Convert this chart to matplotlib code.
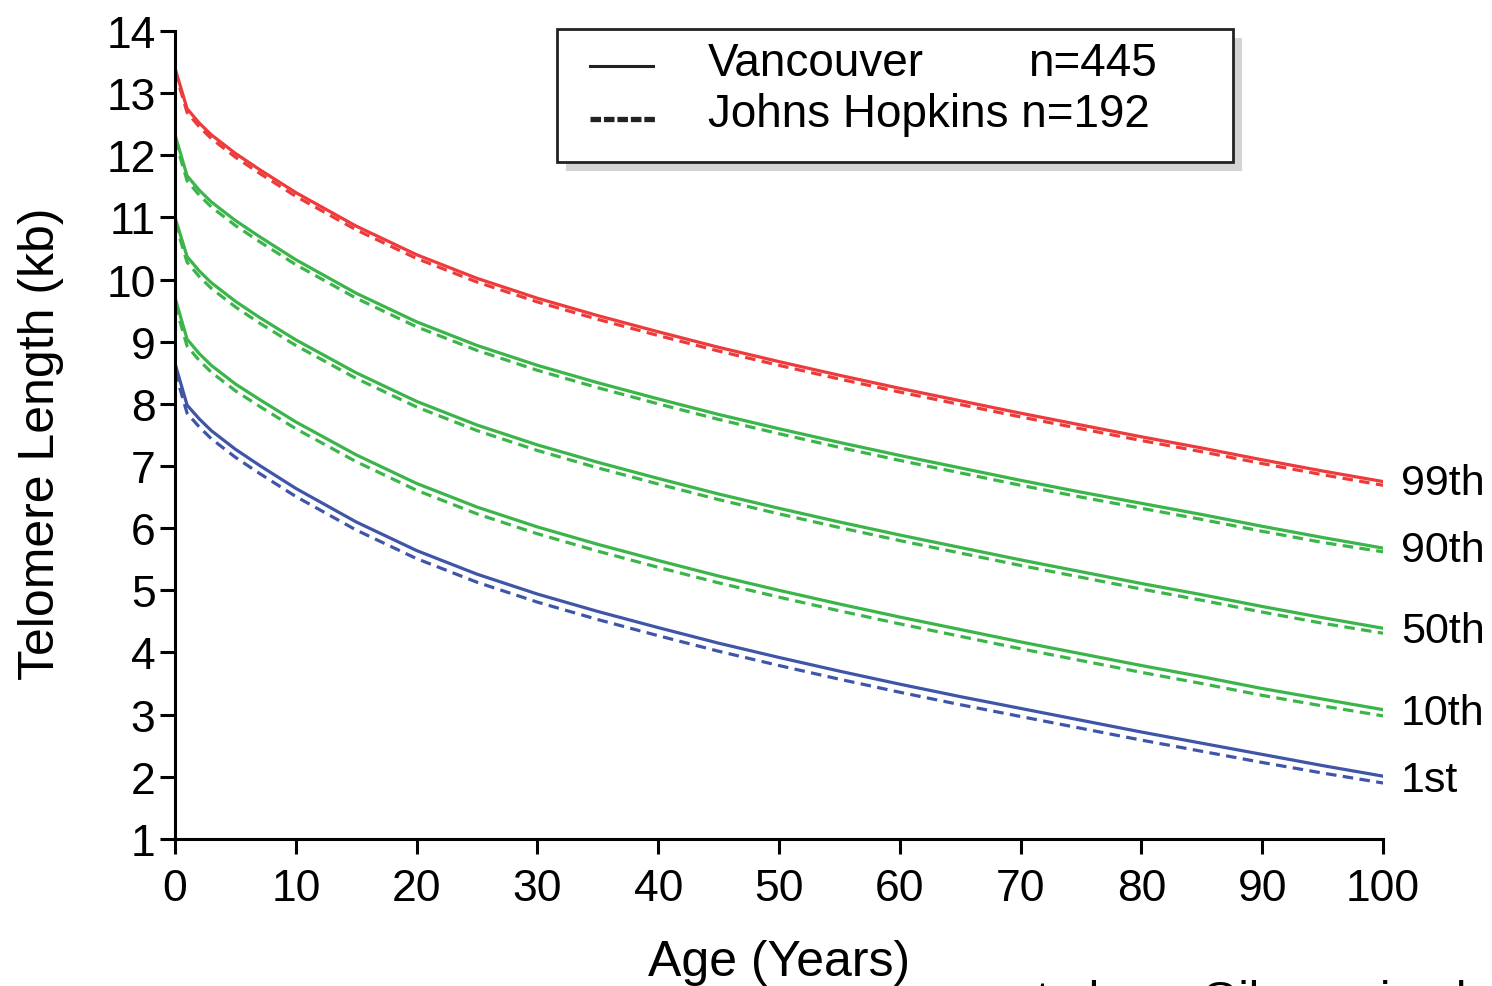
import matplotlib
matplotlib.use("Agg")
import matplotlib.pyplot as plt
from matplotlib.lines import Line2D
from matplotlib.patches import Rectangle

plt.rcParams['font.family'] = ['Liberation Sans', 'DejaVu Sans']

# ages (years)
age = [0, 1, 2, 3, 5, 7, 10, 15, 20, 25, 30, 35, 40, 45, 50, 55, 60, 65, 70, 75, 80, 85, 90, 95, 100]

# Vancouver (solid)
van_99 = [13.40, 12.75, 12.52, 12.33, 12.03, 11.77, 11.40, 10.86, 10.40, 10.02, 9.70, 9.42, 9.16,
          8.91, 8.68, 8.46, 8.25, 8.05, 7.85, 7.66, 7.47, 7.29, 7.10, 6.92, 6.75]
van_90 = [12.33, 11.67, 11.44, 11.25, 10.95, 10.69, 10.32, 9.78, 9.32, 8.94, 8.62, 8.34, 8.08,
          7.83, 7.60, 7.38, 7.17, 6.97, 6.77, 6.58, 6.40, 6.22, 6.03, 5.85, 5.68]
van_50 = [11.00, 10.37, 10.14, 9.95, 9.65, 9.39, 9.03, 8.50, 8.04, 7.66, 7.34, 7.06, 6.80,
          6.55, 6.32, 6.10, 5.89, 5.69, 5.49, 5.30, 5.11, 4.93, 4.74, 4.56, 4.39]
van_10 = [9.71, 9.04, 8.81, 8.62, 8.32, 8.07, 7.71, 7.18, 6.72, 6.34, 6.02, 5.74, 5.48,
          5.23, 5.00, 4.78, 4.57, 4.37, 4.17, 3.98, 3.79, 3.61, 3.42, 3.25, 3.08]
van_01 = [8.65, 7.98, 7.76, 7.57, 7.27, 7.01, 6.64, 6.10, 5.64, 5.26, 4.94, 4.66, 4.40,
          4.15, 3.92, 3.70, 3.49, 3.29, 3.10, 2.91, 2.72, 2.54, 2.36, 2.18, 2.01]

# Johns Hopkins (dashed)
jh_99 = [13.35, 12.69, 12.46, 12.27, 11.97, 11.71, 11.34, 10.80, 10.34, 9.96, 9.64, 9.36, 9.10,
         8.85, 8.62, 8.40, 8.19, 7.99, 7.79, 7.60, 7.41, 7.23, 7.04, 6.86, 6.69]
jh_90 = [12.25, 11.59, 11.36, 11.17, 10.87, 10.61, 10.24, 9.70, 9.24, 8.86, 8.54, 8.26, 8.00,
         7.75, 7.52, 7.30, 7.09, 6.89, 6.69, 6.50, 6.32, 6.14, 5.95, 5.77, 5.62]
jh_50 = [10.92, 10.28, 10.05, 9.86, 9.56, 9.30, 8.94, 8.41, 7.95, 7.57, 7.25, 6.97, 6.71,
         6.46, 6.23, 6.01, 5.80, 5.60, 5.40, 5.21, 5.02, 4.84, 4.65, 4.47, 4.31]
jh_10 = [9.60, 8.93, 8.70, 8.51, 8.21, 7.96, 7.60, 7.07, 6.61, 6.23, 5.91, 5.63, 5.37,
         5.12, 4.89, 4.67, 4.46, 4.26, 4.06, 3.87, 3.68, 3.50, 3.31, 3.14, 2.98]
jh_01 = [8.52, 7.85, 7.63, 7.44, 7.14, 6.88, 6.51, 5.97, 5.51, 5.13, 4.81, 4.53, 4.27,
         4.02, 3.79, 3.57, 3.36, 3.16, 2.97, 2.78, 2.59, 2.41, 2.23, 2.06, 1.90]

pct_labels = ['99th', '90th', '50th', '10th', '1st']

red = '#ee3a3a'
green = '#3bb54a'
blue = '#3f55a8'
colors = [red, green, green, green, blue]

van = [van_99, van_90, van_50, van_10, van_01]
jh = [jh_99, jh_90, jh_50, jh_10, jh_01]

fig = plt.figure(figsize=(14.92, 9.87), dpi=100)
ax = fig.add_axes([0.1173, 0.149, 0.8097, 0.8186])

for v, j, c, lab in zip(van, jh, colors, pct_labels):
    ax.plot(age, v, color=c, lw=2.3, solid_joinstyle='round')
    ax.plot(age, j, color=c, lw=2.3, dashes=(3.3, 2.0))
    ax.text(101.5, (v[-1] + j[-1]) / 2, lab, fontsize=31, va='center', ha='left',
            clip_on=False)

ax.set_xlim(0, 100)
ax.set_ylim(1, 14)
ax.set_xticks(range(0, 101, 10))
ax.set_yticks(range(1, 15))
for s in ['top', 'right']:
    ax.spines[s].set_visible(False)
for s in ['left', 'bottom']:
    ax.spines[s].set_linewidth(2.2)
ax.tick_params(axis='both', length=11, width=2.2, labelsize=32, pad=3)
ax.tick_params(axis='x', pad=10)
ax.set_xlabel('Age (Years)', fontsize=36)
ax.xaxis.set_label_coords(0.5, -0.124)
ax.set_ylabel('Telomere Length (kb)', fontsize=36)
ax.yaxis.set_label_coords(-0.092, 0.49)

# legend box with grey shadow
x0, y0, w, h = 557 / 1492, 1 - 163 / 987, 676 / 1492, 133 / 987
fig.patches.append(Rectangle((x0 + 0.006, y0 - 0.009), w, h, transform=fig.transFigure,
                             facecolor='#d4d4d4', edgecolor='none', zorder=5))
fig.patches.append(Rectangle((x0, y0), w, h, transform=fig.transFigure,
                             facecolor='white', edgecolor='#222222', lw=2, zorder=6))
fig.lines.append(Line2D([590 / 1492, 653 / 1492], [1 - 67 / 987] * 2, transform=fig.transFigure,
                        color='#222222', lw=2.2, zorder=7))
fig.lines.append(Line2D([590 / 1492, 657 / 1492], [1 - 120 / 987] * 2, transform=fig.transFigure,
                        color='#222222', lw=3.8, dashes=(2.0, 0.55), zorder=7))
fig.text(708 / 1492, 1 - 64 / 987, 'Vancouver', fontsize=33, va='center', zorder=8)
fig.text(1028 / 1492, 1 - 64 / 987, 'n=445', fontsize=33, va='center', zorder=8)
fig.text(708 / 1492, 1 - 115 / 987, 'Johns Hopkins n=192', fontsize=33, va='center', zorder=8)

# cropped caption text at the very bottom edge
fig.text(1010 / 1492, -0.027, 'et al., as Gilmore in al', fontsize=34, va='baseline')

fig.savefig('out.png', dpi=100)
